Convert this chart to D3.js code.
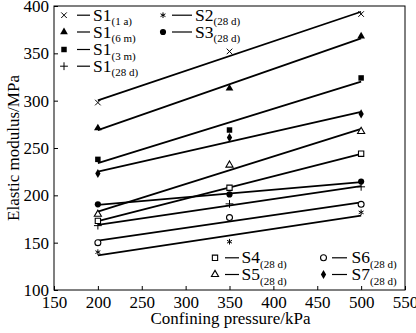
<!DOCTYPE html>
<html><head><meta charset="utf-8">
<script src="https://cdn.jsdelivr.net/npm/d3@7"></script>
<style>body{margin:0;background:#fff}svg{display:block}text{font-family:"Liberation Serif","Times New Roman",serif;fill:#000}</style>
</head><body><div id="chart"></div>
<script>
// ---- data ----
const pressures = [200, 350, 500];
const xTicks = [150, 200, 250, 300, 350, 400, 450, 500, 550];
const yTicks = [100, 150, 200, 250, 300, 350, 400];
const seriesBase = ["S1", "S1", "S1", "S1", "S2", "S3", "S4", "S5", "S6", "S7"];
const seriesSub = ["(1 a)", "(6 m)", "(3 m)", "(28 d)", "(28 d)", "(28 d)", "(28 d)", "(28 d)", "(28 d)", "(28 d)"];
const s1_1a  = [298, 352, 391.5];
const s1_6m  = [271, 313, 368];
const s1_3m  = [238, 269, 324];
const s1_28d = [168, 191, 209];
const s2_28d = [140, 151, 182];
const s3_28d = [190.5, 201, 214.5];
const s4_28d = [173, 208, 244];
const s5_28d = [180, 232, 267.5];
const s6_28d = [150, 176.5, 190.5];
const s7_28d = [223, 261, 286];
const seriesValues = [s1_1a, s1_6m, s1_3m, s1_28d, s2_28d, s3_28d, s4_28d, s5_28d, s6_28d, s7_28d];

// ---- styling ----
const W = 416, H = 333;
const m = {left: 54, right: 11, top: 6, bottom: 43};
const svg = d3.select("#chart").append("svg").attr("width", W).attr("height", H);
const x = d3.scaleLinear().domain([150, 550]).range([m.left, W - m.right]);
const y = d3.scaleLinear().domain([100, 400]).range([H - m.bottom, m.top]);

const T = d3.symbolTimes || {draw(c, s){const r=Math.sqrt(s)/2; c.moveTo(-r,-r);c.lineTo(r,r);c.moveTo(r,-r);c.lineTo(-r,r);}};
const P = d3.symbolPlus || {draw(c, s){const r=Math.sqrt(s)/2; c.moveTo(-r,0);c.lineTo(r,0);c.moveTo(0,-r);c.lineTo(0,r);}};
const A = d3.symbolAsterisk || {draw(c, s){const r=Math.sqrt(s)/2; for(let i=0;i<3;i++){const a=i*Math.PI/3;c.moveTo(-r*Math.cos(a),-r*Math.sin(a));c.lineTo(r*Math.cos(a),r*Math.sin(a));}}};
const markers = [
  [T, 22, "stroke"],
  [d3.symbolTriangle, 26, "fill"],
  [d3.symbolSquare, 30, "fill"],
  [P, 22, "stroke"],
  [A, 22, "stroke"],
  [d3.symbolCircle, 30, "fill"],
  [d3.symbolSquare, 28, "open"],
  [d3.symbolTriangle, 22, "open"],
  [d3.symbolCircle, 28, "open"],
  [d3.symbolDiamond, 24, "fill"]
];
function drawMarker(g, i, cx, cy){
  const [type, size, mode] = markers[i];
  const p = g.append("path").attr("d", d3.symbol().type(type).size(size)()).attr("transform", `translate(${cx},${cy})`);
  if (mode === "fill") p.attr("fill", "#000").attr("stroke", "none");
  else if (mode === "open") p.attr("fill", "#fff").attr("stroke", "#000").attr("stroke-width", 1.1);
  else p.attr("fill", "none").attr("stroke", "#000").attr("stroke-width", 1);
}

// frame
svg.append("rect").attr("x", m.left).attr("y", m.top).attr("width", W - m.right - m.left).attr("height", H - m.bottom - m.top)
  .attr("fill", "none").attr("stroke", "#000").attr("stroke-width", 1);

// axes with inward ticks
const xAxis = svg.append("g").attr("transform", `translate(0,${H - m.bottom})`)
  .call(d3.axisBottom(x).tickValues(xTicks).tickSizeInner(-4).tickSizeOuter(0).tickPadding(6));
const yAxis = svg.append("g").attr("transform", `translate(${m.left},0)`)
  .call(d3.axisLeft(y).tickValues(yTicks).tickSizeInner(-4).tickSizeOuter(0).tickPadding(5));
[xAxis, yAxis].forEach(a => {
  a.attr("font-family", null).attr("font-size", null);
  a.select(".domain").remove();
  a.selectAll("line").attr("stroke", "#000");
  a.selectAll("text").attr("font-size", 17).attr("font-family", "Liberation Serif");
});
xAxis.selectAll("text").attr("dy", "0.71em");

svg.append("text").attr("x", (m.left + W - m.right) / 2 + 1).attr("y", 324).attr("text-anchor", "middle")
  .attr("font-size", 17).text("Confining pressure/kPa");
svg.append("text").attr("transform", `translate(19,${(m.top + H - m.bottom) / 2}) rotate(-90)`)
  .attr("text-anchor", "middle").attr("font-size", 17).text("Elastic modulus/MPa");

// fit lines (least squares) and points
const plot = svg.append("g");
seriesValues.forEach((vals, i) => {
  const mx = d3.mean(pressures), my = d3.mean(vals);
  const slope = d3.sum(pressures, (p, k) => (p - mx) * (vals[k] - my)) / d3.sum(pressures, p => (p - mx) ** 2);
  const f = p => my + slope * (p - mx);
  const x0 = pressures[0], x1 = pressures[pressures.length - 1];
  plot.append("line").attr("x1", x(x0)).attr("y1", y(f(x0))).attr("x2", x(x1)).attr("y2", y(f(x1)))
    .attr("stroke", "#000").attr("stroke-width", 1.8);
});
seriesValues.forEach((vals, i) => {
  vals.forEach((v, k) => drawMarker(plot, i, x(pressures[k]), y(v)));
});

// legends
function legendItem(i, mx, lx0, lx1, tx, base){
  drawMarker(svg, i, mx, base - 5.5);
  svg.append("line").attr("x1", lx0).attr("x2", lx1).attr("y1", base - 5.5).attr("y2", base - 5.5).attr("stroke", "#000").attr("stroke-width", 1.2);
  const t = svg.append("text").attr("x", tx).attr("y", base).attr("font-size", 17.5);
  t.append("tspan").text(seriesBase[i]);
  t.append("tspan").attr("dy", 4.5).attr("font-size", 11).text(seriesSub[i]);
}
const topRows = [20.7, 37.5, 55, 71.7];
[0, 1, 2, 3].forEach((i, r) => legendItem(i, 64, 77, 90, 93, topRows[r]));
[4, 5].forEach((i, r) => legendItem(i, 163, 172, 192, 195, topRows[r]));
const botRows = [263.3, 280];
[6, 7].forEach((i, r) => legendItem(i, 215, 225, 239, 241.5, botRows[r]));
[8, 9].forEach((i, r) => legendItem(i, 323.5, 332, 347, 351.5, botRows[r]));
</script></body></html>
